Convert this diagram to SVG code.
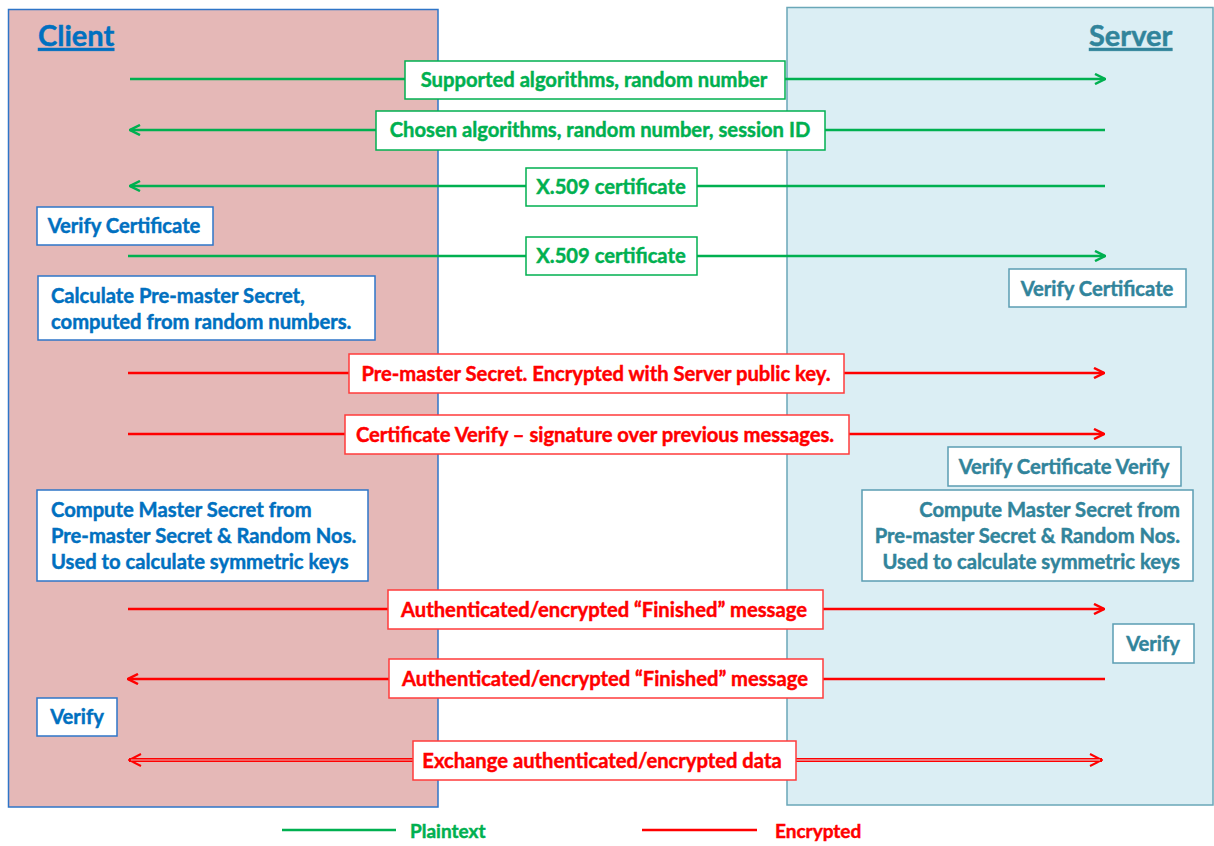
<svg xmlns="http://www.w3.org/2000/svg" width="1214" height="846" viewBox="0 0 1214 846">
<style>
text{font-family:Lato,"Open Sans","Liberation Sans",sans-serif;font-weight:bold;font-size:20.2px;stroke-width:0.45px}
.g{fill:#00b050;stroke:#00b050}.r{fill:#ff0000;stroke:#ff0000}.b{fill:#0070c0;stroke:#0070c0}.t{fill:#31849b;stroke:#31849b}
.gl{stroke:#00b050;stroke-width:2.5;fill:none}
.rl{stroke:#ff0000;stroke-width:2.5;fill:none}
.gb{fill:#fff;stroke:#00b050;stroke-width:1.5}
.rb{fill:#fff;stroke:#ff3b3b;stroke-width:1.5}
.bb{fill:#fff;stroke:#2e75c8;stroke-width:1.5}
.tb{fill:#fff;stroke:#5b9db2;stroke-width:1.5}
.title{font-size:29px;text-decoration:underline}
.leg{font-size:19px}
</style>
<defs>
<marker id="ag" viewBox="0 0 12 12" refX="11" refY="6" markerWidth="12" markerHeight="12" markerUnits="userSpaceOnUse" orient="auto-start-reverse">
<path d="M1,1 L11,6 L1,11" fill="none" stroke="#00b050" stroke-width="2.5"/>
</marker>
<marker id="ar" viewBox="0 0 12 12" refX="11" refY="6" markerWidth="12" markerHeight="12" markerUnits="userSpaceOnUse" orient="auto-start-reverse">
<path d="M1,1 L11,6 L1,11" fill="none" stroke="#ff0000" stroke-width="2.5"/>
</marker>
<marker id="ar2" viewBox="0 0 14 14" refX="13" refY="7" markerWidth="14" markerHeight="14" markerUnits="userSpaceOnUse" orient="auto-start-reverse">
<path d="M1,1 L13,7 L1,13" fill="none" stroke="#ff0000" stroke-width="2"/>
</marker>
</defs>
<g id="client">
<rect x="8.5" y="9.5" width="429.5" height="797.5" fill="#e5b8b7" stroke="#2e75c8" stroke-width="1.5"/>
<text class="title b" x="38" y="46">Client</text>
</g>
<g id="server">
<rect x="787" y="7.5" width="426" height="797.5" fill="#dbeef4" stroke="#6aa7b8" stroke-width="1.5"/>
<text class="title t" x="1089" y="46">Server</text>
</g>
<g id="connectors">
<line class="gl" x1="130" y1="79" x2="1105" y2="79" marker-end="url(#ag)"/>
<line class="gl" x1="1105" y1="130" x2="130" y2="130" marker-end="url(#ag)"/>
<line class="gl" x1="1105" y1="186" x2="130" y2="186" marker-end="url(#ag)"/>
<line class="gl" x1="128" y1="256" x2="1105" y2="256" marker-end="url(#ag)"/>
<line class="rl" x1="128" y1="373" x2="1104" y2="373" marker-end="url(#ar)"/>
<line class="rl" x1="128" y1="434" x2="1104" y2="434" marker-end="url(#ar)"/>
<line class="rl" x1="128" y1="609" x2="1104" y2="609" marker-end="url(#ar)"/>
<line class="rl" x1="1105" y1="679" x2="128" y2="679" marker-end="url(#ar)"/>
<line x1="129" y1="760" x2="1102" y2="760" stroke="#ff0000" stroke-width="4" marker-start="url(#ar2)" marker-end="url(#ar2)"/>
<line x1="131" y1="760" x2="437" y2="760" stroke="#e5b8b7" stroke-width="1.2"/>
<line x1="437" y1="760" x2="788" y2="760" stroke="#fff" stroke-width="1.2"/>
<line x1="788" y1="760" x2="1100" y2="760" stroke="#dbeef4" stroke-width="1.2"/>
</g>
<g id="msg1"><rect class="gb" x="405" y="61" width="380" height="38"/><text class="g" x="594" y="87" text-anchor="middle">Supported algorithms, random number</text></g>
<g id="msg2"><rect class="gb" x="376" y="111" width="449" height="39"/><text class="g" x="600" y="137" text-anchor="middle">Chosen algorithms, random number, session ID</text></g>
<g id="msg3"><rect class="gb" x="526" y="168" width="171" height="38"/><text class="g" x="611" y="194" text-anchor="middle">X.509 certificate</text></g>
<g id="msg4"><rect class="gb" x="526" y="237" width="171" height="38"/><text class="g" x="611" y="263" text-anchor="middle">X.509 certificate</text></g>
<g id="msg5"><rect class="rb" x="349" y="354" width="495" height="39"/><text class="r" x="596" y="381" text-anchor="middle">Pre-master Secret. Encrypted with Server public key.</text></g>
<g id="msg6"><rect class="rb" x="345" y="415" width="504" height="39"/><text class="r" x="595" y="442" text-anchor="middle">Certificate Verify – signature over previous messages.</text></g>
<g id="msg7"><rect class="rb" x="388" y="590" width="435" height="39"/><text class="r" x="604" y="617" text-anchor="middle">Authenticated/encrypted “Finished” message</text></g>
<g id="msg8"><rect class="rb" x="389" y="659" width="434" height="39"/><text class="r" x="605" y="686" text-anchor="middle">Authenticated/encrypted “Finished” message</text></g>
<g id="msg9"><rect class="rb" x="413" y="741" width="383" height="39"/><text class="r" x="602" y="768" text-anchor="middle">Exchange authenticated/encrypted data</text></g>
<g id="c-verify-cert"><rect class="bb" x="37" y="207" width="176" height="38"/><text class="b" x="124" y="233" text-anchor="middle">Verify Certificate</text></g>
<g id="c-premaster"><rect class="bb" x="38" y="276" width="337" height="64"/><text class="b" x="51" y="303">Calculate Pre-master Secret,</text><text class="b" x="51" y="329">computed from random numbers.</text></g>
<g id="c-master"><rect class="bb" x="37" y="490" width="331" height="91"/><text class="b" x="51" y="517">Compute Master Secret from</text><text class="b" x="51" y="543">Pre-master Secret &amp; Random Nos.</text><text class="b" x="51" y="569">Used to calculate symmetric keys</text></g>
<g id="c-verify"><rect class="bb" x="37" y="698" width="80" height="38"/><text class="b" x="77" y="724" text-anchor="middle">Verify</text></g>
<g id="s-verify-cert"><rect class="tb" x="1009" y="269" width="177" height="38"/><text class="t" x="1097" y="296" text-anchor="middle">Verify Certificate</text></g>
<g id="s-verify-cv"><rect class="tb" x="948" y="447" width="233" height="39"/><text class="t" x="1064" y="474" text-anchor="middle">Verify Certificate Verify</text></g>
<g id="s-master"><rect class="tb" x="862" y="490" width="331" height="91"/><text class="t" x="1180" y="517" text-anchor="end">Compute Master Secret from</text><text class="t" x="1180" y="543" text-anchor="end">Pre-master Secret &amp; Random Nos.</text><text class="t" x="1180" y="569" text-anchor="end">Used to calculate symmetric keys</text></g>
<g id="s-verify"><rect class="tb" x="1113" y="624" width="81" height="39"/><text class="t" x="1153" y="651" text-anchor="middle">Verify</text></g>
<g id="legend">
<line x1="282" y1="830" x2="396" y2="830" stroke="#00b050" stroke-width="2.5"/>
<text class="g leg" x="410" y="838">Plaintext</text>
<line x1="642" y1="830" x2="757" y2="830" stroke="#ff0000" stroke-width="2.5"/>
<text class="r leg" x="775" y="838">Encrypted</text>
</g>
</svg>
